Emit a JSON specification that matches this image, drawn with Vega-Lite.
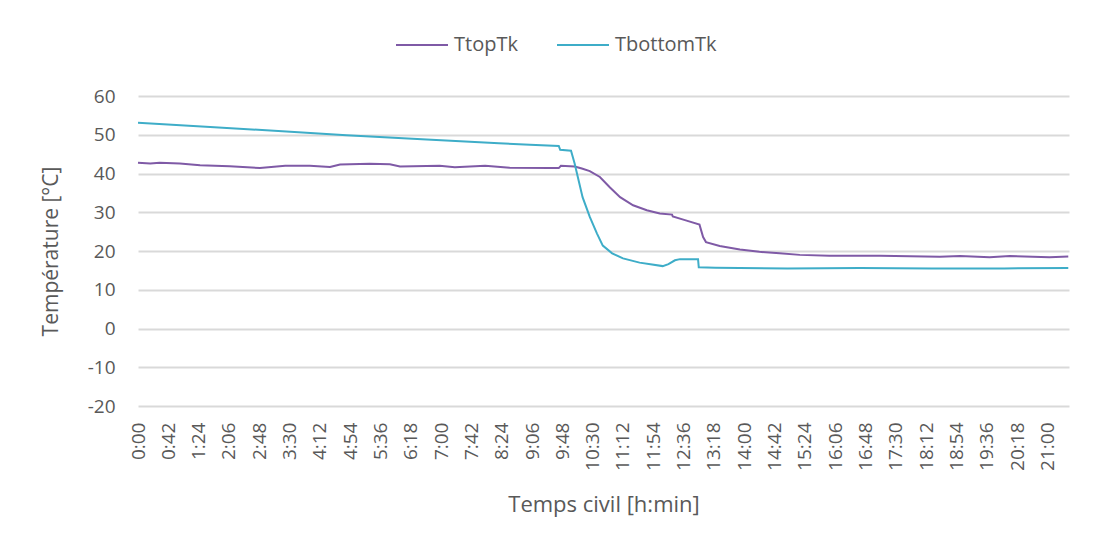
{
  "$schema": "https://vega.github.io/schema/vega-lite/v6.json",
  "autosize": "none",
  "width": 931,
  "height": 310,
  "padding": {"left": 138, "top": 96, "right": 28, "bottom": 142},
  "background": "white",
  "config": {
    "view": {"stroke": null},
    "font": "Open Sans",
    "axis": {"labelColor": "#595959", "titleColor": "#595959", "titleFontWeight": "normal", "labelFont": "Open Sans", "titleFont": "Open Sans"},
    "legend": {"labelColor": "#595959", "labelFont": "Open Sans"}
  },
  "data": {
    "values": [
      {"t": 0, "serie": "TtopTk", "T": 42.8},
      {"t": 17, "serie": "TtopTk", "T": 42.6},
      {"t": 30, "serie": "TtopTk", "T": 42.8},
      {"t": 58, "serie": "TtopTk", "T": 42.6},
      {"t": 86, "serie": "TtopTk", "T": 42.1},
      {"t": 127, "serie": "TtopTk", "T": 41.9},
      {"t": 169, "serie": "TtopTk", "T": 41.4},
      {"t": 204, "serie": "TtopTk", "T": 42.0},
      {"t": 238, "serie": "TtopTk", "T": 42.0},
      {"t": 266, "serie": "TtopTk", "T": 41.7},
      {"t": 280, "serie": "TtopTk", "T": 42.3},
      {"t": 321, "serie": "TtopTk", "T": 42.5},
      {"t": 349, "serie": "TtopTk", "T": 42.4},
      {"t": 363, "serie": "TtopTk", "T": 41.8},
      {"t": 418, "serie": "TtopTk", "T": 42.0},
      {"t": 439, "serie": "TtopTk", "T": 41.6},
      {"t": 481, "serie": "TtopTk", "T": 42.0},
      {"t": 515, "serie": "TtopTk", "T": 41.5},
      {"t": 571, "serie": "TtopTk", "T": 41.4},
      {"t": 583, "serie": "TtopTk", "T": 41.4},
      {"t": 586, "serie": "TtopTk", "T": 42.0},
      {"t": 605, "serie": "TtopTk", "T": 41.8},
      {"t": 615, "serie": "TtopTk", "T": 41.3},
      {"t": 626, "serie": "TtopTk", "T": 40.6},
      {"t": 640, "serie": "TtopTk", "T": 39.1},
      {"t": 654, "serie": "TtopTk", "T": 36.4},
      {"t": 668, "serie": "TtopTk", "T": 33.9},
      {"t": 686, "serie": "TtopTk", "T": 31.8},
      {"t": 705, "serie": "TtopTk", "T": 30.5},
      {"t": 723, "serie": "TtopTk", "T": 29.7},
      {"t": 740, "serie": "TtopTk", "T": 29.4},
      {"t": 741, "serie": "TtopTk", "T": 28.9},
      {"t": 759, "serie": "TtopTk", "T": 27.9},
      {"t": 778, "serie": "TtopTk", "T": 26.8},
      {"t": 783, "serie": "TtopTk", "T": 23.6},
      {"t": 787, "serie": "TtopTk", "T": 22.3},
      {"t": 806, "serie": "TtopTk", "T": 21.3},
      {"t": 834, "serie": "TtopTk", "T": 20.4},
      {"t": 861, "serie": "TtopTk", "T": 19.8},
      {"t": 889, "serie": "TtopTk", "T": 19.4},
      {"t": 917, "serie": "TtopTk", "T": 19.0},
      {"t": 958, "serie": "TtopTk", "T": 18.8},
      {"t": 1028, "serie": "TtopTk", "T": 18.8},
      {"t": 1111, "serie": "TtopTk", "T": 18.5},
      {"t": 1139, "serie": "TtopTk", "T": 18.7},
      {"t": 1180, "serie": "TtopTk", "T": 18.4},
      {"t": 1208, "serie": "TtopTk", "T": 18.7},
      {"t": 1263, "serie": "TtopTk", "T": 18.4},
      {"t": 1289, "serie": "TtopTk", "T": 18.6},

      {"t": 0, "serie": "TbottomTk", "T": 53.1},
      {"t": 100, "serie": "TbottomTk", "T": 52.0},
      {"t": 200, "serie": "TbottomTk", "T": 50.9},
      {"t": 289, "serie": "TbottomTk", "T": 49.9},
      {"t": 400, "serie": "TbottomTk", "T": 48.8},
      {"t": 500, "serie": "TbottomTk", "T": 47.8},
      {"t": 543, "serie": "TbottomTk", "T": 47.4},
      {"t": 583, "serie": "TbottomTk", "T": 47.1},
      {"t": 585, "serie": "TbottomTk", "T": 46.1},
      {"t": 600, "serie": "TbottomTk", "T": 45.9},
      {"t": 605, "serie": "TbottomTk", "T": 42.6},
      {"t": 616, "serie": "TbottomTk", "T": 33.9},
      {"t": 626, "serie": "TbottomTk", "T": 28.8},
      {"t": 636, "serie": "TbottomTk", "T": 24.5},
      {"t": 644, "serie": "TbottomTk", "T": 21.4},
      {"t": 657, "serie": "TbottomTk", "T": 19.4},
      {"t": 672, "serie": "TbottomTk", "T": 18.1},
      {"t": 695, "serie": "TbottomTk", "T": 17.0},
      {"t": 710, "serie": "TbottomTk", "T": 16.6},
      {"t": 727, "serie": "TbottomTk", "T": 16.1},
      {"t": 735, "serie": "TbottomTk", "T": 16.6},
      {"t": 744, "serie": "TbottomTk", "T": 17.6},
      {"t": 751, "serie": "TbottomTk", "T": 17.9},
      {"t": 776, "serie": "TbottomTk", "T": 17.9},
      {"t": 777, "serie": "TbottomTk", "T": 15.8},
      {"t": 800, "serie": "TbottomTk", "T": 15.7},
      {"t": 900, "serie": "TbottomTk", "T": 15.5},
      {"t": 1000, "serie": "TbottomTk", "T": 15.6},
      {"t": 1100, "serie": "TbottomTk", "T": 15.5},
      {"t": 1200, "serie": "TbottomTk", "T": 15.5},
      {"t": 1289, "serie": "TbottomTk", "T": 15.6}
    ]
  },
  "mark": {"type": "line", "strokeWidth": 2, "interpolate": "linear"},
  "encoding": {
    "x": {
      "field": "t",
      "type": "quantitative",
      "scale": {"domain": [0, 1290], "nice": false, "zero": false},
      "axis": {
        "title": "Temps civil [h:min]",
        "titleFontSize": 22,
        "titlePadding": 24,
        "values": [0, 42, 84, 126, 168, 210, 252, 294, 336, 378, 420, 462, 504, 546, 588, 630, 672, 714, 756, 798, 840, 882, 924, 966, 1008, 1050, 1092, 1134, 1176, 1218, 1260],
        "labelExpr": "floor(datum.value / 60) + ':' + pad(datum.value % 60, 2, '0', 'left')",
        "labelAngle": -90,
        "labelFontSize": 19,
        "labelPadding": 16,
        "labelOverlap": false,
        "labelFlush": false,
        "ticks": false,
        "domain": false,
        "grid": false
      }
    },
    "y": {
      "field": "T",
      "type": "quantitative",
      "scale": {"domain": [-20, 60], "nice": false, "zero": false},
      "axis": {
        "title": "Température [°C]",
        "titleFontSize": 21,
        "titlePadding": 26,
        "values": [-20, -10, 0, 10, 20, 30, 40, 50, 60],
        "labelExpr": "'' + datum.value",
        "labelFontSize": 19,
        "labelPadding": 23,
        "ticks": false,
        "domain": false,
        "grid": true,
        "gridColor": "#d9d9d9",
        "gridWidth": 2
      }
    },
    "color": {
      "field": "serie",
      "type": "nominal",
      "scale": {"domain": ["TtopTk", "TbottomTk"], "range": ["#7f5aa6", "#3eadc8"]},
      "legend": {
        "title": null,
        "orient": "none",
        "direction": "horizontal",
        "legendX": 257,
        "legendY": -78,
        "symbolType": "stroke",
        "symbolSize": 2704,
        "symbolStrokeWidth": 2,
        "labelFontSize": 20,
        "labelOffset": 5,
        "columnPadding": 35
      }
    }
  }
}
